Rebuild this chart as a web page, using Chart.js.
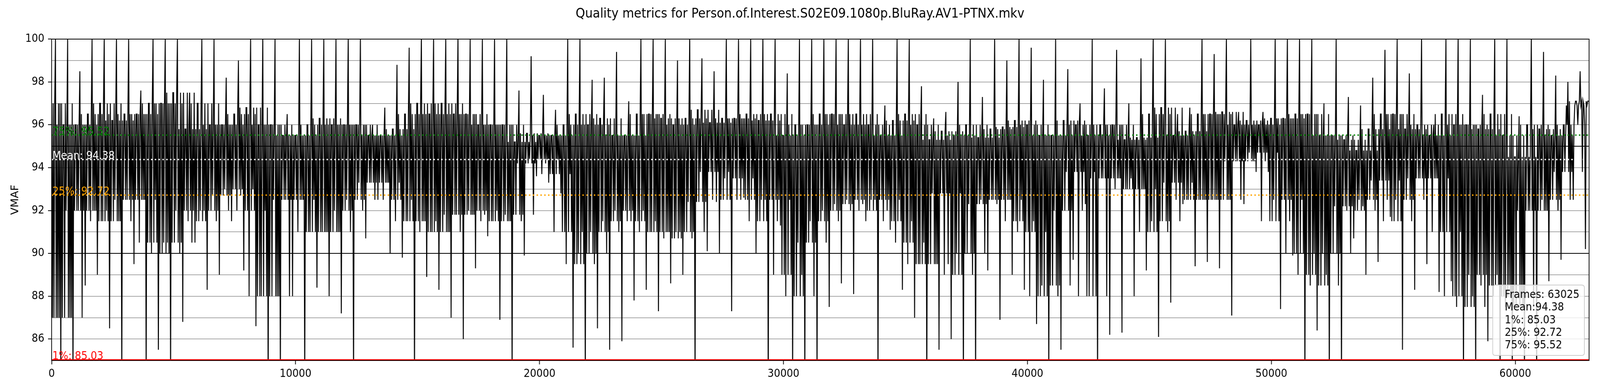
<!DOCTYPE html>
<html>
<head>
<meta charset="utf-8">
<script src="https://cdn.jsdelivr.net/npm/chart.js@4.4.1/dist/chart.umd.min.js"></script>
<style>
html,body{margin:0;padding:0;background:#ffffff;overflow:hidden;}
canvas{display:block;}
</style>
</head>
<body>
<canvas id="c" width="4400" height="1000" style="width:100vw;height:100vh;"></canvas>
<script>
// ---------------- data ----------------
const titleText = "Quality metrics for Person.of.Interest.S02E09.1080p.BluRay.AV1-PTNX.mkv";
const yAxisLabel = "VMAF";
const totalFrames = 63025;
const binSize = 500; // frames per bin

// per 500-frame bin: highest spike, lowest spike, upper / lower edge of the dense core
const binMax = [
  100,100,98.5,100,100,100,100,97.6,100,100,100,97.5,100,100,98.2,99,100,100,100,96.5,100,
  100,100,100,100,100,96,96.8,98.8,99.6,100,100,100,100,100,100,100,100,97.6,99.2,97.4,96.7,
  100,100,98.1,98.2,99.4,97.1,100,100,100,99,100,99.1,98.5,100,100,100,100,100,98.4,100,100,
  100,100,100,100,100,96.9,100,100,97.8,96.3,96.6,98,100,97.3,100,99,100,99.6,98.1,100,98.6,
  97,100,97.7,99.5,97,99.1,100,100,96.5,96.8,100,99.3,100,96.6,100,96.6,100,100,100,100,97,100,
  97.3,96.9,98.2,99.5,100,98.4,100,96,100,100,100,97.4,100,100,96.4,100,99.4,98.3,98,98.5
];
const binMin = [
  84,84,88.5,89,86.5,84,89.5,84,85.5,84,86.8,90.5,88.3,89,91.5,89.2,86.6,84,84,88,84,
  88.4,88,87.2,84,90.7,92.5,90,89.8,84,88.9,88.3,87,86,89.3,90.8,86.9,84,89.9,93.6,93.3,92.8,
  85.6,84,86.5,85.5,85.9,87.8,88.3,87.3,88.6,89,84,90.1,90,87.3,92.6,90,84,91.3,84,84,84,
  87.5,88.6,88.1,91.5,84,91.1,88.3,87,84,85.5,86,84,84,89.2,86.9,89,88.3,86.7,84,85.5,89.7,
  92.3,84,86.2,86.3,88,89.2,86.1,87.7,92.3,89.4,89.6,89.3,87.1,92.3,93.8,93.8,87.4,89.9,84,86.4,84,84,
  90.7,89,89.6,91.7,85.5,88.3,89.5,88.2,88.7,84,84,85.9,84,84,84,84,88.7,89.7,92.5,90.2
];
const coreHigh = [
  97,96,96,96.5,97,96.2,96.5,96.5,97,97,97.5,95.8,97,96,96,96.5,96.8,96,96,95.5,95.5,
  96,96.3,96,96,96,95.5,95.5,95.8,96.5,97,96.5,97,96.5,96.5,96,96,96,95.2,95.6,95.5,95.5,
  96,96.5,96,96.3,95.5,95.5,96.5,96.5,96.3,96,96.3,96.7,96.1,96.3,96.3,96.5,96.2,96.5,95.5,96,96,
  96.5,96.5,96,96.5,96,95.5,96.2,96.5,96,95.3,95.7,95.5,96,95.4,95.8,95.9,96.2,96,95.5,95.5,96.2,
  96,95.5,96,96,95.3,95.4,96.5,96.8,95.5,95.7,96.5,96.5,96.6,96,96.2,96,96.3,96.3,96.5,96.5,95.5,95.5,
  95.3,94.8,95.8,96.5,96.5,95.8,96,95.5,96.5,96,96,95.8,96.5,95.5,94.5,96,95.8,95.5,96,97.1
];
const coreLow = [
  87,87,92,92,91.5,91.5,92.5,92.5,90.5,90,90.5,92,91.5,92,92.7,93,92,88,88,92.5,92.5,
  91,91,91,92,92.5,93.3,93.3,92.5,91.5,91.5,91,91,91.8,91.8,92,91.5,91.5,91.8,94.2,94.4,93.7,
  91,89.5,90,91,91.5,92,91.5,91,91,90.7,91,92.4,93.8,92.5,93.5,92.5,91.5,92.5,89,88,90.5,
  91.5,92,92.3,92.5,92,92.5,91.5,90.5,89.5,89.5,92.8,89,90,92.3,92.5,92.5,91.5,91,88,88.5,92,
  93.8,88,93.5,93.5,93,93,91,91.5,93.3,92.5,92.5,92.5,92.5,94.3,94.3,94.7,91.5,92.5,90,89,88.5,90,
  92.2,92,92.5,93.4,91.5,92.5,93.5,93.5,91,88,87.5,89,88.5,88,87.5,92,92,92.5,93.8,96.9
];

// reference lines
const refNames  = ["75%", "Mean", "25%", "1%"];
const refValues = [95.52, 94.38, 92.72, 85.03];
const refColors = ["#008000", "#ffffff", "#ffa500", "#ff0000"];
const refDashed = [true, true, true, false];

// stats box
const statLines = ["Frames: 63025", "Mean:94.38", "1%: 85.03", "25%: 92.72", "75%: 95.52"];

// axes
const xTicks = [0, 10000, 20000, 30000, 40000, 50000, 60000];
const yTickLabels = [86, 88, 90, 92, 94, 96, 98, 100];
const yBlackLines = [90, 95];
const yMin = 85, yMax = 100;

// ---------------- build the plotted series ----------------
// Inside each bin the trace swings between the read core edges of this bin and its
// neighbours (so edges are ragged, as in the reference) and reaches each read spike once.
const visitOrder = [
  ['ch',0],['cl',0],['ch',-1],['cl',1],['ch',0],['hi',0],['cl',0],['ch',1],
  ['cl',-1],['ch',0],['cl',0],['ch',-1],['lo',0],['ch',0],['cl',1],['ch',1]
];
const src = {hi: binMax, lo: binMin, ch: coreHigh, cl: coreLow};
const nBins = binMax.length;
const series = [];
for (let b = 0; b < nBins; b++) {
  const start = b * binSize;
  const end = Math.min(start + binSize, totalFrames);
  visitOrder.forEach(([key, off], k) => {
    const j = Math.min(nBins - 1, Math.max(0, b + off));
    series.push({x: start + (end - start) * k / visitOrder.length, y: src[key][j]});
  });
}
series.push({x: totalFrames, y: coreHigh[nBins - 1]});

const FONT = "DejaVu Sans";
Chart.defaults.font.family = FONT;

const datasets = [];
refValues.forEach((val, i) => {
  datasets.push({
    label: refNames[i],
    data: [{x: 0, y: val}, {x: totalFrames, y: val}],
    borderColor: refColors[i],
    borderWidth: refDashed[i] ? 3.5 : 3,
    borderDash: refDashed[i] ? [4, 6.5] : [],
    pointRadius: 0,
    order: 1
  });
});
datasets.push({
  label: yAxisLabel,
  data: series,
  borderColor: "#000000",
  borderWidth: 2.6,
  pointRadius: 0,
  tension: 0,
  order: 10
});

const overlay = {
  id: 'overlay',
  afterDatasetsDraw(chart) {
    const ctx = chart.ctx;
    const a = chart.chartArea;
    const ys = chart.scales.y;
    ctx.save();
    // frame
    ctx.strokeStyle = "#000";
    ctx.lineWidth = 2;
    ctx.strokeRect(a.left, a.top, a.right - a.left, a.bottom - a.top);
    // reference labels
    ctx.font = "27.5px '" + FONT + "'";
    ctx.textAlign = "left";
    ctx.textBaseline = "alphabetic";
    refValues.forEach((val, i) => {
      ctx.fillStyle = refColors[i];
      const label = refNames[i] + ": " + val.toFixed(2);
      ctx.fillText(label, a.left + 2, ys.getPixelForValue(val) - 1);
    });
    // stats box
    const bx = 4105, by = 729, bw = 252, bh = 180, r = 7;
    ctx.beginPath();
    ctx.moveTo(bx + r, by);
    ctx.lineTo(bx + bw - r, by);
    ctx.quadraticCurveTo(bx + bw, by, bx + bw, by + r);
    ctx.lineTo(bx + bw, by + bh - r);
    ctx.quadraticCurveTo(bx + bw, by + bh, bx + bw - r, by + bh);
    ctx.lineTo(bx + r, by + bh);
    ctx.quadraticCurveTo(bx, by + bh, bx, by + bh - r);
    ctx.lineTo(bx, by + r);
    ctx.quadraticCurveTo(bx, by, bx + r, by);
    ctx.closePath();
    ctx.fillStyle = "rgba(255,255,255,0.8)";
    ctx.fill();
    ctx.strokeStyle = "#cccccc";
    ctx.lineWidth = 2;
    ctx.stroke();
    ctx.fillStyle = "#000";
    statLines.forEach((t, i) => {
      ctx.fillText(t, 4138, 762 + i * 32.3);
    });
    // title
    ctx.font = "33px '" + FONT + "'";
    ctx.textAlign = "center";
    ctx.fillText(titleText, 2200, 45);
    // y axis label
    ctx.font = "27.5px '" + FONT + "'";
    ctx.translate(50, (a.top + a.bottom) / 2);
    ctx.rotate(-Math.PI / 2);
    ctx.textAlign = "center";
    ctx.fillText(yAxisLabel, 0, 0);
    ctx.restore();
  }
};

new Chart(document.getElementById('c'), {
  type: 'line',
  data: {datasets},
  options: {
    responsive: false,
    devicePixelRatio: 1,
    animation: false,
    layout: {padding: {left: 0, top: 100, right: 30, bottom: 0}},
    plugins: {legend: {display: false}, tooltip: {enabled: false}, title: {display: false}},
    elements: {point: {radius: 0}, line: {tension: 0}},
    scales: {
      x: {
        type: 'linear',
        min: 0,
        max: totalFrames,
        afterFit(s) { s.height = 78; },
        afterBuildTicks(s) { s.ticks = xTicks.map(v => ({value: v})); },
        ticks: {
          includeBounds: false,
          color: "#000",
          font: {size: 27.5, family: FONT},
          padding: 8,
          maxRotation: 0,
          autoSkip: false,
          callback: v => String(v)
        },
        grid: {drawOnChartArea: false, drawTicks: true, tickLength: 10, tickWidth: 2, tickColor: "#000"},
        border: {display: true, color: "#000", width: 2}
      },
      y: {
        type: 'linear',
        min: yMin,
        max: yMax,
        afterFit(s) { s.width = 142; },
        ticks: {
          stepSize: 1,
          color: "#000",
          font: {size: 27.5, family: FONT},
          padding: 10,
          autoSkip: false,
          callback: v => (yTickLabels.includes(v) ? String(v) : '')
        },
        grid: {
          drawTicks: true,
          tickLength: 10,
          tickWidth: 2,
          tickColor: c => (yTickLabels.includes(c.tick.value) ? "#000" : "rgba(0,0,0,0)"),
          color: c => (yBlackLines.includes(c.tick.value) ? "#000000" : "#8c8c8c"),
          lineWidth: c => (yBlackLines.includes(c.tick.value) ? 2 : 1.5)
        },
        border: {display: true, color: "#000", width: 2}
      }
    }
  },
  plugins: [overlay]
});
</script>
</body>
</html>
